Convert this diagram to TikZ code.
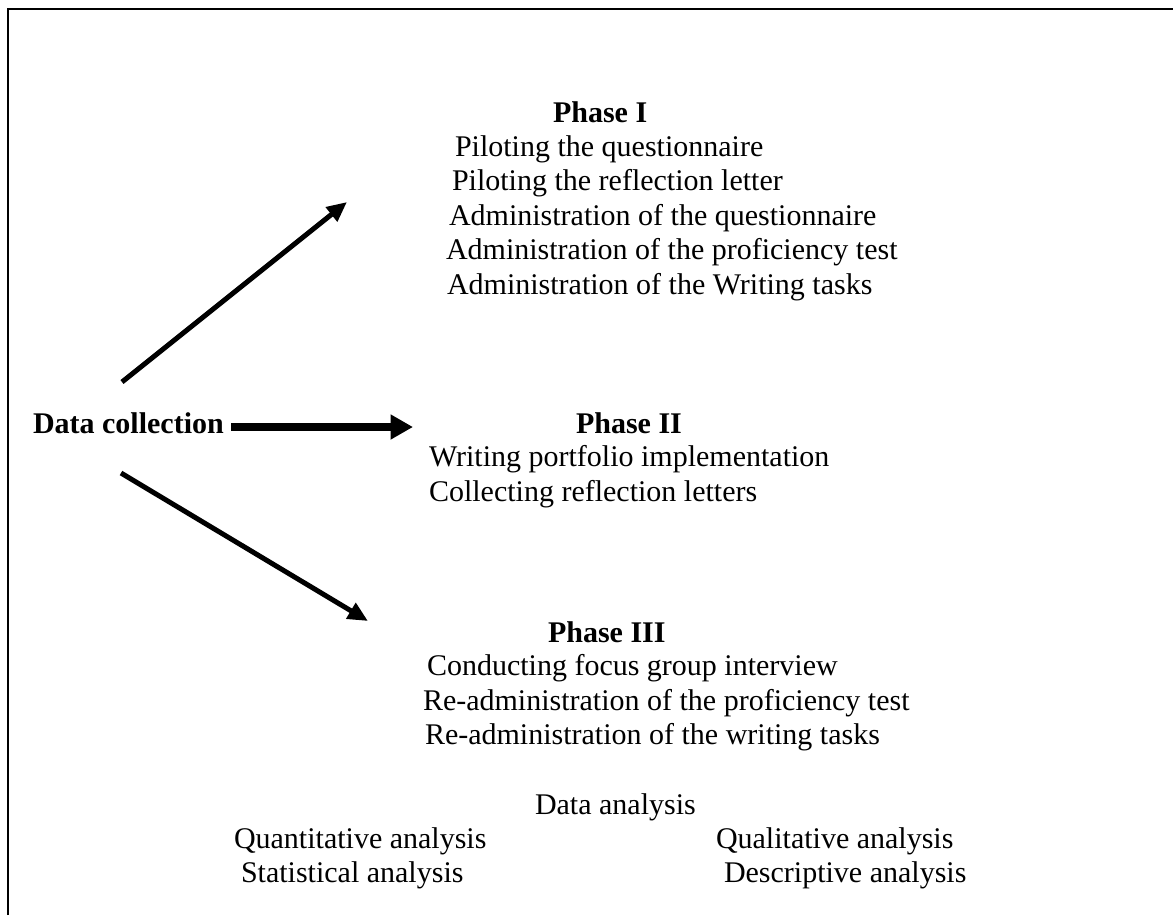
\documentclass[tikz,border=0pt]{standalone}
\usepackage{fontspec}
\setmainfont{Liberation Serif}
\usetikzlibrary{arrows.meta}
\begin{document}
\begin{tikzpicture}[x=0.4pt,y=-0.4pt,
  txt/.style={anchor=base west,inner sep=0pt,outer sep=0pt,font=\fontsize{12}{14}\selectfont},
  btxt/.style={txt,font=\fontsize{12}{14}\selectfont\bfseries},
  arr/.style={line width=2pt,-{Triangle[length=8pt,width=7pt]}},
  bigarr/.style={line width=3.2pt,-{Triangle[length=9pt,width=9.5pt]}},
  borderline/.style={line width=0.7pt}]
\useasboundingbox (0,0) rectangle (1173,915);
\coordinate (fbl) at (7.7,915);
\coordinate (ftl) at (7.7,9.3);
\coordinate (ftr) at (1173,9.3);
\draw[borderline] (fbl) -- (ftl) -- (ftr);

% Data collection
\node[btxt] (dc) at (33,433) {Data collection};

% Phase I
\node[btxt] (p1) at (553,122) {Phase I};
\node[txt] (p1a) at (455,156) {Piloting the questionnaire};
\node[txt] (p1b) at (452,190.5) {Piloting the reflection letter};
\node[txt] (p1c) at (449,225) {Administration of the questionnaire};
\node[txt] (p1d) at (446,259.5) {Administration of the proficiency test};
\node[txt] (p1e) at (447,294) {Administration of the Writing tasks};

% Phase II
\node[btxt] (p2) at (576,433) {Phase II};
\node[txt] (p2a) at (429,466.5) {Writing portfolio implementation};
\node[txt] (p2b) at (429,501) {Collecting reflection letters};

% Phase III
\node[btxt] (p3) at (548,642) {Phase III};
\node[txt] (p3a) at (427,675.5) {Conducting focus group interview};
\node[txt] (p3b) at (423,710) {Re-administration of the proficiency test};
\node[txt] (p3c) at (425,744.5) {Re-administration of the writing tasks};

% Data analysis
\node[txt] (da) at (535,814) {Data analysis};
\node[txt] (qn) at (234,848) {Quantitative analysis};
\node[txt] (st) at (241,882) {Statistical analysis};
\node[txt] (ql) at (716,848) {Qualitative analysis};
\node[txt] (de) at (724,882) {Descriptive analysis};

% arrows
\coordinate (a1s) at (122,382);
\coordinate (a1e) at (347,202);
\coordinate (a2s) at (231,427);
\coordinate (a2e) at (413,427);
\coordinate (a3s) at (121,473);
\coordinate (a3e) at (368,621);
\draw[arr] (a1s) -- (a1e);
\draw[bigarr] (a2s) -- (a2e);
\draw[arr] (a3s) -- (a3e);
\end{tikzpicture}
\end{document}
